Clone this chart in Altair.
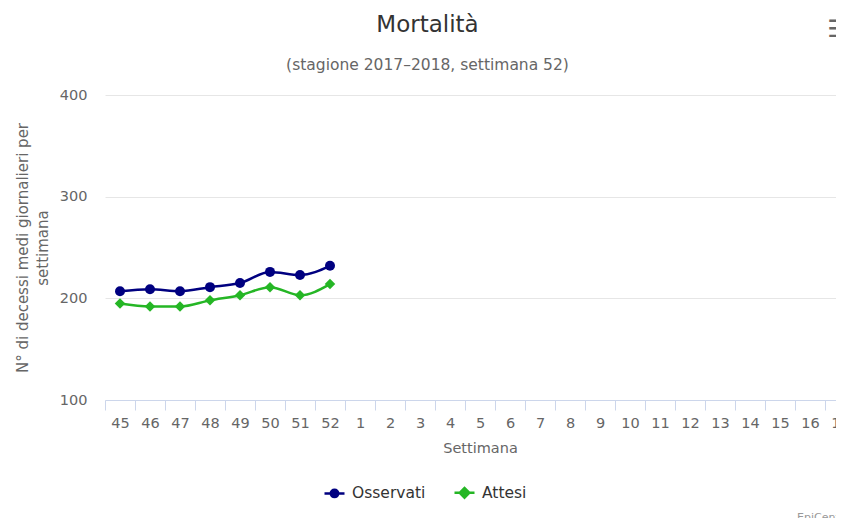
import math
import altair as alt
import pandas as pd

weeks = ["45", "46", "47", "48", "49", "50", "51", "52",
         "1", "2", "3", "4", "5", "6", "7", "8", "9", "10",
         "11", "12", "13", "14", "15", "16", "17"]
obs_weeks = ["45", "46", "47", "48", "49", "50", "51", "52"]
osservati = [207, 209, 207, 211, 215, 226, 223, 232]
attesi = [195, 192, 192, 198, 203, 211, 203, 214]
series = ["Osservati", "Attesi"]
colors = ["#000080", "#25b625"]
y_ticks = [100, 200, 300, 400]

rows = []
for w, o, a in zip(obs_weeks, osservati, attesi):
    rows.append({"settimana": w, "valore": o, "serie": "Osservati"})
    rows.append({"settimana": w, "valore": a, "serie": "Attesi"})
df = pd.DataFrame(rows)

FONT = "DejaVu Sans"

x_enc = alt.X(
    "settimana:O",
    sort=weeks,
    bandPosition=0.5,
    scale=alt.Scale(type="band", domain=weeks, paddingInner=0, paddingOuter=0, range=[0, 750]),
    axis=alt.Axis(
        title="Settimana",
        tickBand="extent",
        labelAngle=0,
        domainColor="#ccd6eb",
        tickColor="#ccd6eb",
        tickSize=10,
        labelColor="#666666",
        labelFontSize=14.5,
        labelPadding=6,
        titleColor="#666666",
        titleFontSize=14.5,
        titleFontWeight="normal",
        titlePadding=12,
        titleX=375,
        grid=False,
    ),
)
y_enc = alt.Y(
    "valore:Q",
    scale=alt.Scale(domain=[100, 400]),
    axis=alt.Axis(
        values=y_ticks,
        grid=True,
        gridColor="#e6e6e6",
        domain=False,
        ticks=False,
        labelPadding=18,
        labelColor="#666666",
        labelFontSize=14.5,
        title=["N° di decessi medi giornalieri per", "settimana"],
        titleFontSize=15,
        titleColor="#666666",
        titleFontWeight="normal",
        titlePadding=9,
        titleLineHeight=20,
    ),
)

# legend symbols: a short line with the series marker on it
r = 0.37
poly = "L".join(
    f"{r * math.cos(2 * math.pi * k / 16):.3f},{r * math.sin(2 * math.pi * k / 16):.3f}"
    for k in range(16)
)
path_circle = "M-1,0L1,0M" + poly + "Z"
path_diamond = "M-1,0L1,0M-0.48,0L0,-0.48L0.48,0L0,0.48Z"

legend_props = dict(
    title=None,
    orient="none",
    legendX=218,
    legendY=386,
    direction="horizontal",
    labelFontSize=15.5,
    labelColor="#333333",
    labelFont=FONT,
    symbolSize=400,
    symbolStrokeWidth=2.5,
    symbolOpacity=1,
    labelOffset=6,
    columnPadding=23,
)
color_enc = alt.Color("serie:N", scale=alt.Scale(domain=series, range=colors),
                      legend=alt.Legend(**legend_props))

base = alt.Chart(df)

lines = base.mark_line(interpolate="monotone", strokeWidth=2.5).encode(
    x=x_enc, y=y_enc, color=color_enc
)
pts_o = base.transform_filter(alt.datum.serie == "Osservati").mark_point(
    filled=True, shape="circle", size=100, opacity=1
).encode(x=x_enc, y=y_enc, color=color_enc)
pts_a = base.transform_filter(alt.datum.serie == "Attesi").mark_point(
    filled=True, shape="diamond", size=110, opacity=1
).encode(x=x_enc, y=y_enc, color=color_enc)
# invisible layer that only feeds the legend symbol shapes
legend_shapes = base.mark_point(filled=True, opacity=0).encode(
    x=x_enc,
    y=y_enc,
    color=color_enc,
    shape=alt.Shape("serie:N", scale=alt.Scale(domain=series, range=[path_circle, path_diamond]),
                    legend=alt.Legend(**legend_props)),
)

credits = alt.Chart(pd.DataFrame({"t": ["EpiCentro"]})).mark_text(
    align="left", baseline="alphabetic", fontSize=11, color="#999999", font=FONT
).encode(x=alt.value(692), y=alt.value(426), text="t:N")

menu = alt.Chart(pd.DataFrame({"t": ["☰"]})).mark_text(
    align="center", baseline="middle", fontSize=24, fontWeight="bold", color="#666666", font=FONT
).encode(x=alt.value(733), y=alt.value(-65), text="t:N")

chart = alt.layer(lines, pts_o, pts_a, legend_shapes, credits, menu).properties(
    width=731,
    height=305,
    autosize=alt.AutoSizeParams(type="none"),
    padding={"left": 97, "top": 87, "right": 0, "bottom": 118},
    title=alt.TitleParams(
        text="Mortalità",
        subtitle="(stagione 2017–2018, settimana 52)",
        anchor="middle",
        frame="group",
        dx=-43,
        dy=75,
        fontSize=23,
        fontWeight="normal",
        color="#333333",
        font=FONT,
        subtitleFont=FONT,
        subtitleFontSize=15.5,
        subtitleColor="#666666",
        subtitlePadding=21,
        offset=20,
    ),
).configure(font=FONT, background="white").configure_view(stroke=None)

chart.save("out.html", embed_options={"renderer": "svg", "actions": False})
